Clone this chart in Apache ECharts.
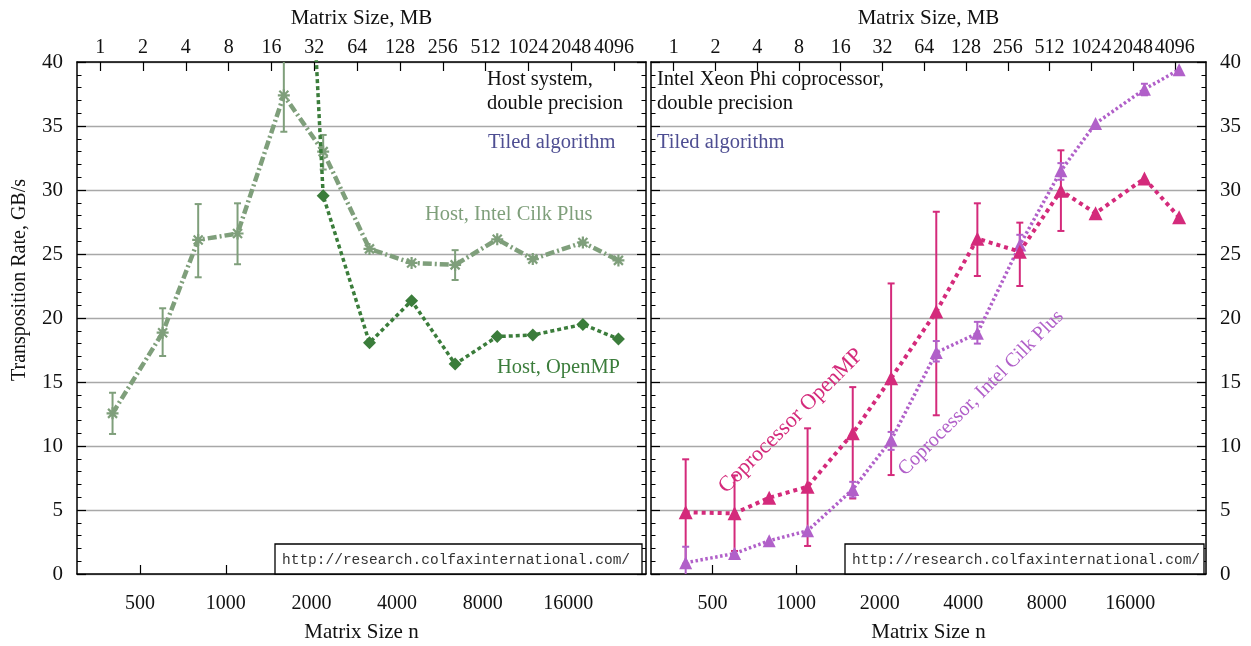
<!DOCTYPE html>
<html>
<head>
<meta charset="utf-8">
<script src="https://cdn.jsdelivr.net/npm/echarts@6/dist/echarts.min.js"></script>
<style>
html, body { margin: 0; padding: 0; background: #fff; }
#main { width: 1251px; height: 646px; }
</style>
</head>
<body>
<div id="main"></div>
<script>
// 矩阵尺寸 n
var sizeN = [400, 600, 800, 1100, 1600, 2200, 3200, 4500, 6400, 9000, 12000, 18000, 24000];
var nTicks = [500, 1000, 2000, 4000, 8000, 16000];
var mbTicks = [1, 2, 4, 8, 16, 32, 64, 128, 256, 512, 1024, 2048, 4096];

// host
var hostCilk = [12.55, 18.85, 26.1, 26.6, 37.4, 33.0, 25.4, 24.3, 24.15, 26.15, 24.6, 25.9, 24.5];
var hostCilkLo = [10.94, 17.03, 23.18, 24.2, 34.55, 31.6, null, null, 22.97, null, null, null, null];
var hostCilkHi = [14.16, 20.76, 28.9, 28.96, 41, 34.3, null, null, 25.3, null, null, null, null];
var hostOmp = [null, null, null, null, 90, 29.55, 18.07, 21.35, 16.4, 18.55, 18.67, 19.5, 18.36];

// coprocessor
var phiOmp = [4.82, 4.74, 5.96, 6.82, 10.99, 15.3, 20.5, 26.2, 25.18, 29.95, 28.18, 30.9, 27.87];
var phiOmpLo = [0.8, 1.8, null, 2.19, 5.9, 7.73, 12.4, 23.28, 22.5, 26.8, null, null, null];
var phiOmpHi = [8.96, 7.7, null, 11.38, 14.6, 22.7, 28.3, 28.96, 27.45, 33.1, null, null, null];
var phiCilk = [0.88, 1.6, 2.6, 3.38, 6.61, 10.47, 17.3, 18.8, 25.7, 31.5, 35.2, 37.87, 39.4];
var phiCilkLo = [-1, null, null, null, 5.99, 9.7, 16.6, 18.0, 25.08, 30.8, null, 37.4, null];
var phiCilkHi = [2.13, null, null, null, 7.2, 11.1, 18.2, 19.7, 26.5, 32.1, null, 38.3, null];

var cHostCilk = '#7f9f7b';
var cHostOmp = '#3b7d3b';
var cPhiOmp = '#d42a7b';
var cPhiCilk = '#b160c9';
var cTiled = '#4e4e92';
var serif = '"Liberation Serif", "Times New Roman", serif';
var fs = 20;     // tick labels
var fsName = 21; // axis names
var fsNote = 20.5;

var myChart = echarts.init(document.getElementById('main'));

function mbToN(mb) { return Math.sqrt(mb * 1048576 / 8); }
var xMin = Math.log2(300), xMax = Math.log2(30000);

function pts(vals) {
	return sizeN.map(function (n, i) { return [Math.log2(n), vals[i]]; });
}
function errPts(lo, hi) {
	var out = [];
	sizeN.forEach(function (n, i) {
		if (lo[i] != null) out.push([Math.log2(n), lo[i], hi[i]]);
	});
	return out;
}

function bottomAxis(grid) {
	return {
		type: 'value', gridIndex: grid, position: 'bottom', min: xMin, max: xMax,
		name: 'Matrix Size n', nameLocation: 'middle', nameGap: 48,
		nameTextStyle: { fontFamily: serif, fontSize: fsName, color: '#111' },
		axisLine: { show: true, onZero: false, lineStyle: { color: '#000', width: 1.5 } },
		axisTick: { show: true, inside: true, length: 9, customValues: nTicks.map(Math.log2), lineStyle: { color: '#000', width: 1.2 } },
		axisLabel: {
			customValues: nTicks.map(Math.log2), margin: 20, hideOverlap: false,
			fontFamily: serif, fontSize: fs, color: '#111',
			formatter: function (v) { return Math.round(Math.pow(2, v)); }
		},
		splitLine: { show: false }
	};
}
function topAxis(grid) {
	return {
		type: 'value', gridIndex: grid, position: 'top', min: xMin, max: xMax,
		name: 'Matrix Size, MB', nameLocation: 'middle', nameGap: 33,
		nameTextStyle: { fontFamily: serif, fontSize: fsName, color: '#111' },
		axisLine: { show: true, onZero: false, lineStyle: { color: '#000', width: 1.5 } },
		axisTick: { show: true, inside: true, length: 9, customValues: mbTicks.map(function (m) { return Math.log2(mbToN(m)); }), lineStyle: { color: '#000', width: 1.2 } },
		axisLabel: {
			customValues: mbTicks.map(function (m) { return Math.log2(mbToN(m)); }), margin: 4, hideOverlap: false,
			fontFamily: serif, fontSize: fs, color: '#111',
			formatter: function (v) { return Math.round(Math.pow(2, 2 * v) * 8 / 1048576); }
		},
		splitLine: { show: false }
	};
}
function yAxis(grid, pos, labels, split) {
	return {
		type: 'value', gridIndex: grid, position: pos, min: 0, max: 40, interval: 5,
		axisLine: { show: true, lineStyle: { color: '#000', width: 1.5 } },
		axisTick: { show: true, inside: true, length: 9, lineStyle: { color: '#000', width: 1.2 } },
		minorTick: { show: true, splitNumber: 5, length: 4.5, lineStyle: { color: '#000', width: 1 } },
		axisLabel: { show: labels, margin: 14, fontFamily: serif, fontSize: fsName, color: '#111' },
		splitLine: { show: split, lineStyle: { color: '#a8a8a8', width: 1.3 } }
	};
}

function errSeries(xi, yi, color, lo, hi) {
	return {
		type: 'custom', xAxisIndex: xi, yAxisIndex: yi, clip: true, z: 3,
		data: errPts(lo, hi),
		renderItem: function (params, api) {
			var x = api.value(0);
			var a = api.coord([x, api.value(1)]);
			var b = api.coord([x, api.value(2)]);
			var st = { stroke: color, lineWidth: 2 };
			return {
				type: 'group',
				children: [
					{ type: 'line', shape: { x1: a[0], y1: a[1], x2: b[0], y2: b[1] }, style: st },
					{ type: 'line', shape: { x1: a[0] - 3.5, y1: a[1], x2: a[0] + 3.5, y2: a[1] }, style: st },
					{ type: 'line', shape: { x1: b[0] - 3.5, y1: b[1], x2: b[0] + 3.5, y2: b[1] }, style: st }
				]
			};
		}
	};
}

var asterisk = 'path://M0,-6L0,6M-6,0L6,0M-4.5,-4.5L4.5,4.5M-4.5,4.5L4.5,-4.5';

function txt(x, y, text, color, opts) {
	opts = opts || {};
	return {
		type: 'text', x: x, y: y, rotation: opts.rot || 0, z: 50,
		style: {
			text: text, fill: color, font: (opts.size || fsNote) + 'px ' + (opts.font || serif),
			align: opts.align || 'left', verticalAlign: 'middle',
			textAlign: opts.align || 'left', textVerticalAlign: 'middle'
		}
	};
}

var option = {
	animation: false,
	backgroundColor: '#fff',
	grid: [
		{ left: 77, top: 62, width: 569, height: 512, outerBoundsMode: 'none', containLabel: false },
		{ left: 651, top: 62, width: 555, height: 512, outerBoundsMode: 'none', containLabel: false }
	],
	xAxis: [bottomAxis(0), topAxis(0), bottomAxis(1), topAxis(1)],
	yAxis: [yAxis(0, 'left', true, true), yAxis(0, 'right', false, false),
		yAxis(1, 'right', true, true), yAxis(1, 'left', false, false)],
	series: [
		errSeries(0, 0, cHostCilk, hostCilkLo, hostCilkHi),
		{
			type: 'line', xAxisIndex: 0, yAxisIndex: 0, data: pts(hostCilk), z: 4,
			symbol: asterisk, symbolSize: 12,
			itemStyle: { color: cHostCilk, borderColor: cHostCilk, borderWidth: 2.2 },
			lineStyle: { color: cHostCilk, width: 4.5, type: [9, 3, 2, 3] }
		},
		{
			type: 'line', xAxisIndex: 0, yAxisIndex: 0, data: pts(hostOmp), z: 5,
			symbol: 'diamond', symbolSize: 13, connectNulls: false,
			itemStyle: { color: cHostOmp },
			lineStyle: { color: cHostOmp, width: 3.5, type: [4, 3] }
		},
		errSeries(2, 2, cPhiOmp, phiOmpLo, phiOmpHi),
		errSeries(2, 2, cPhiCilk, phiCilkLo, phiCilkHi),
		{
			type: 'line', xAxisIndex: 2, yAxisIndex: 2, data: pts(phiCilk), z: 4,
			symbol: 'triangle', symbolSize: 13,
			itemStyle: { color: cPhiCilk },
			lineStyle: { color: cPhiCilk, width: 3.5, type: [2.5, 2.5] }
		},
		{
			type: 'line', xAxisIndex: 2, yAxisIndex: 2, data: pts(phiOmp), z: 5,
			symbol: 'triangle', symbolSize: 14,
			itemStyle: { color: cPhiOmp },
			lineStyle: { color: cPhiOmp, width: 4, type: [4, 4] }
		}
	],
	graphic: [
		txt(20, 280, 'Transposition Rate, GB/s', '#111', { rot: Math.PI / 2, align: 'center', size: 20 }),
		txt(487, 80, 'Host system,', '#111'),
		txt(487, 104, 'double precision', '#111'),
		txt(488, 143, 'Tiled algorithm', cTiled),
		txt(425, 215, 'Host, Intel Cilk Plus', cHostCilk),
		txt(497, 368, 'Host, OpenMP', cHostOmp),
		txt(657, 80, 'Intel Xeon Phi coprocessor,', '#111'),
		txt(657, 104, 'double precision', '#111'),
		txt(657, 143, 'Tiled algorithm', cTiled),
		txt(791, 421, 'Coprocessor OpenMP', cPhiOmp, { rot: Math.PI / 4, align: 'center', size: 22 }),
		txt(981, 393, 'Coprocessor, Intel Cilk Plus', cPhiCilk, { rot: Math.PI / 4, align: 'center', size: 20 }),
		{ type: 'rect', z: 40, shape: { x: 275, y: 544, width: 367, height: 30 }, style: { fill: '#fff', stroke: '#000', lineWidth: 1.3 } },
		txt(282, 560, 'http://research.colfaxinternational.com/', '#333', { size: 14.5, font: '"Liberation Mono", monospace' }),
		{ type: 'rect', z: 40, shape: { x: 845, y: 544, width: 359, height: 30 }, style: { fill: '#fff', stroke: '#000', lineWidth: 1.3 } },
		txt(852, 560, 'http://research.colfaxinternational.com/', '#333', { size: 14.5, font: '"Liberation Mono", monospace' })
	]
};

myChart.setOption(option);
</script>
</body>
</html>
